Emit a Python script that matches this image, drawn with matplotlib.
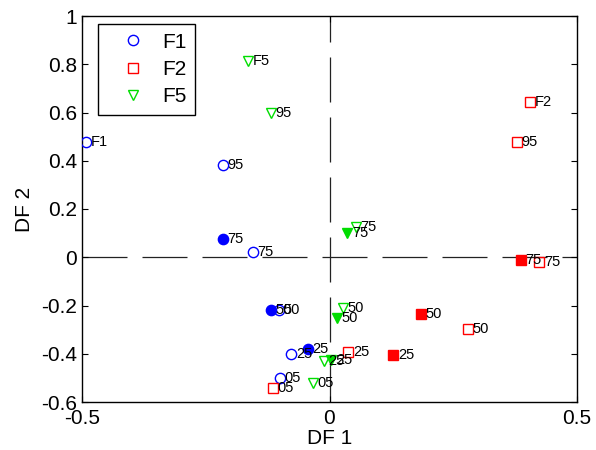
import matplotlib
matplotlib.use("Agg")
import matplotlib.pyplot as plt
from matplotlib.lines import Line2D

plt.rcParams['font.family'] = ['Liberation Sans', 'DejaVu Sans']
plt.rcParams['lines.scale_dashes'] = False

# Group F1 (blue circles)
f1_open_x = [-0.491, -0.216, -0.154, -0.103, -0.077, -0.101]
f1_open_y = [0.477, 0.381, 0.021, -0.220, -0.402, -0.502]
f1_open_lab = ['F1', '95', '75', '50', '25', '05']
f1_fill_x = [-0.216, -0.119, -0.044]
f1_fill_y = [0.075, -0.220, -0.381]
f1_fill_lab = ['75', '50', '25']

# Group F2 (red squares)
f2_open_x = [0.406, 0.378, 0.424, 0.279, 0.038, -0.115]
f2_open_y = [0.642, 0.477, -0.021, -0.298, -0.394, -0.543]
f2_open_lab = ['F2', '95', '75', '50', '25', '05']
f2_fill_x = [0.386, 0.184, 0.129]
f2_fill_y = [-0.012, -0.236, -0.406]
f2_fill_lab = ['75', '50', '25']

# Group F5 (green triangles)
f5_open_x = [-0.164, -0.119, 0.053, 0.028, -0.012, -0.034]
f5_open_y = [0.812, 0.597, 0.124, -0.211, -0.431, -0.522]
f5_open_lab = ['F5', '95', '75', '50', '25', '05']
f5_fill_x = [0.036, 0.016, 0.004]
f5_fill_y = [0.099, -0.253, -0.427]
f5_fill_lab = ['75', '50', '25']

legend_labels = ['F1', 'F2', 'F5']
x_ticks = [-0.5, 0, 0.5]
y_ticks = [-0.6, -0.4, -0.2, 0, 0.2, 0.4, 0.6, 0.8, 1]

blue = '#0000ff'
red = '#ff0000'
green = '#00dd00'

fig = plt.figure(figsize=(5.96, 4.5), dpi=100)
ax = fig.add_axes([82/596, 48/450, 495/596, 386/450])

# reference dashed lines through origin
dash = (32.4, 10.8)
hl, = ax.plot([-0.5, 0.5], [0, 0], color='#222222', lw=0.9, zorder=1)
hl.set_dashes(dash)
vl, = ax.plot([0, 0], [-0.6, 1], color='#222222', lw=0.9, zorder=1)
vl.set_dashes(dash)

ms = 7.4
groups = [
    (f1_open_x, f1_open_y, f1_open_lab, f1_fill_x, f1_fill_y, f1_fill_lab, 'o', blue),
    (f2_open_x, f2_open_y, f2_open_lab, f2_fill_x, f2_fill_y, f2_fill_lab, 's', red),
    (f5_open_x, f5_open_y, f5_open_lab, f5_fill_x, f5_fill_y, f5_fill_lab, 'v', green),
]
for ox, oy, ol, fx, fy, fl, mk, col in groups:
    ax.plot(ox, oy, linestyle='none', marker=mk, ms=ms, mfc='none', mec=col, mew=1.0, zorder=3)
    ax.plot(fx, fy, linestyle='none', marker=mk, ms=ms, mfc=col, mec=col, mew=1.0, zorder=3)
    for x, y, t in list(zip(ox, oy, ol)) + list(zip(fx, fy, fl)):
        ax.text(x + 0.009, y, t, fontsize=10.5, ha='left', va='center', zorder=4)

ax.set_xlim(-0.5, 0.5)
ax.set_ylim(-0.6, 1)
ax.set_xticks(x_ticks)
ax.set_xticklabels(['-0.5', '0', '0.5'])
ax.set_yticks(y_ticks)
ax.set_yticklabels(['-0.6', '-0.4', '-0.2', '0', '0.2', '0.4', '0.6', '0.8', '1'])
ax.tick_params(direction='in', length=4, width=0.8, top=True, right=True, labelsize=15)
ax.tick_params(axis='x', pad=5)
ax.tick_params(axis='y', pad=3.5)
for s in ax.spines.values():
    s.set_linewidth(1.0)
ax.set_xlabel('DF 1', fontsize=15, labelpad=1)
ax.set_ylabel('DF 2', fontsize=15, labelpad=5)

handles = [Line2D([], [], linestyle='none', marker=m, ms=ms, mfc='none', mec=c, mew=1.0)
           for m, c in zip(['o', 's', 'v'], [blue, red, green])]
leg = ax.legend(handles, legend_labels, loc='upper left', bbox_to_anchor=(16/495, 1 - 8/386),
                borderaxespad=0, fontsize=15, handlelength=2.48, handletextpad=0.16,
                borderpad=0.42, labelspacing=0.4, fancybox=False, framealpha=1,
                edgecolor='black')
leg.get_frame().set_linewidth(1.0)

fig.savefig('out.png', dpi=100)
